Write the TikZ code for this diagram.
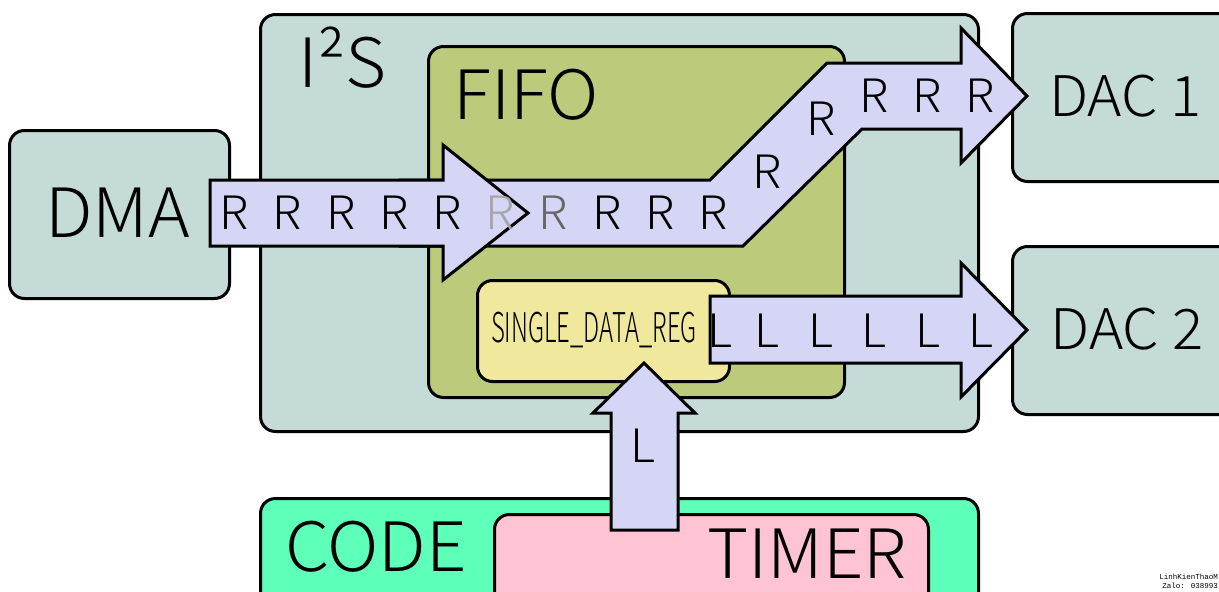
\documentclass[tikz,border=0pt]{standalone}
\usepackage{fontspec}
\setmainfont{Noto Sans CJK JP}[UprightFont={* Light}, FakeStretch=1.04]
\newfontfamily\wmfont{Liberation Mono}
\definecolor{boxteal}{RGB}{197,219,216}
\definecolor{fifoc}{RGB}{188,202,123}
\definecolor{arrowfill}{RGB}{213,213,245}
\definecolor{sdrc}{RGB}{240,232,156}
\definecolor{codec}{RGB}{94,255,184}
\definecolor{timerc}{RGB}{255,196,212}
\newcommand{\fsz}[1]{\fontsize{#1}{#1}\selectfont}
\begin{document}
\begin{tikzpicture}[x=1pt,y=-1pt,
  blk/.style={draw=black, line width=3pt, rounded corners=15pt, rectangle, anchor=north west, inner sep=0pt},
  barrow/.style={draw=black, fill=arrowfill, line width=3pt, line join=miter},
  lbl/.style={anchor=base, inner sep=0pt, text=black},
  big/.style={lbl, font=\fsz{68}},
  rl/.style={lbl, font=\fsz{46}},
]
\useasboundingbox (0,0) rectangle (1219,592);
\fill[white] (0,0) rectangle (1219,592);
% boxes
\node[blk, fill=boxteal, minimum width=718pt, minimum height=417pt] (i2s) at (259,13) {};
\node[blk, fill=fifoc, minimum width=416pt, minimum height=351pt] (fifo) at (427,45) {};
\node[blk, fill=boxteal, minimum width=220pt, minimum height=168pt] (dma) at (8,129) {};
\node[blk, fill=boxteal, minimum width=240pt, minimum height=168pt] (dac1) at (1011,12) {};
\node[blk, fill=boxteal, minimum width=240pt, minimum height=168pt] (dac2) at (1011,245) {};
\node[blk, fill=codec, minimum width=718pt, minimum height=150pt] (code) at (259,497) {};
\node[blk, fill=timerc, minimum width=434pt, minimum height=130pt] (timer) at (493,513) {};
\node[blk, fill=sdrc, minimum width=252pt, minimum height=101pt] (sdr) at (476,279) {};
% labels
\node[big] (i2slbl) at (342.5,87) {I²S};
\node[big] (fifolbl) at (526,119) {FIFO};
\node[big] (dmalbl) at (117.5,237) {DMA};
\node[lbl, font=\fsz{56}] (dac1lbl) at (1125.5,116) {DAC 1};
\node[lbl, font=\fsz{56}] (dac2lbl) at (1127,349) {DAC 2};
\node[big] (codelbl) at (376,571) {CODE};
\node[big] (timerlbl) at (807,578) {TIMER};
\node[lbl, font=\fsz{41}] (sdrlbl) at (594,342) {\scalebox{0.56}[1]{SINGLE\_DATA\_REG}};
% block arrows
\draw[barrow] (400,180) -- (710,180) -- (827,63) -- (961,63) -- (961,28) -- (1027,96)
  -- (961,163) -- (961,129) -- (862,129) -- (743,246) -- (400,246) -- cycle;
\draw[barrow] (210,180) -- (443,180) -- (443,145) -- (528,213) -- (443,280) -- (443,246) -- (210,246) -- cycle;
\draw[barrow] (710,296) -- (961,296) -- (961,263) -- (1027,330) -- (961,397) -- (961,363) -- (710,363) -- cycle;
\draw[barrow] (611,530) -- (611,413) -- (593,413) -- (644,363) -- (695,413) -- (678,413) -- (678,530) -- cycle;
% R letters
\foreach \i/\x in {0/234,1/287.3,2/340.6,3/393.9,4/447.2,7/607,8/660,9/713}
  \node[rl] (r\i) at (\x,229) {R};
\node[rl, text=black!35] (r5) at (500,229) {R};
\node[rl, text=black!60] (r6) at (553,229) {R};
\node[rl] (r10) at (767,188) {R};
\node[rl] (r11) at (821,135) {R};
\node[rl] (r12) at (874,112) {R};
\node[rl] (r13) at (927,112) {R};
\node[rl] (r14) at (980,112) {R};
% L letters
\foreach \i/\x in {0/720,1/767,2/820.5,3/874,4/927.5,5/981}
  \node[rl] (l\i) at (\x,347) {L};
\node[rl] (lup) at (643,462) {L};
% watermark
\node[anchor=base east, inner sep=0pt, font=\wmfont\fsz{7.5}] (wm1) at (1218,579) {LinhKienThaoM};
\node[anchor=base east, inner sep=0pt, font=\wmfont\fsz{7.5}] (wm2) at (1218,588) {Zalo: 038993};
\end{tikzpicture}
\end{document}
